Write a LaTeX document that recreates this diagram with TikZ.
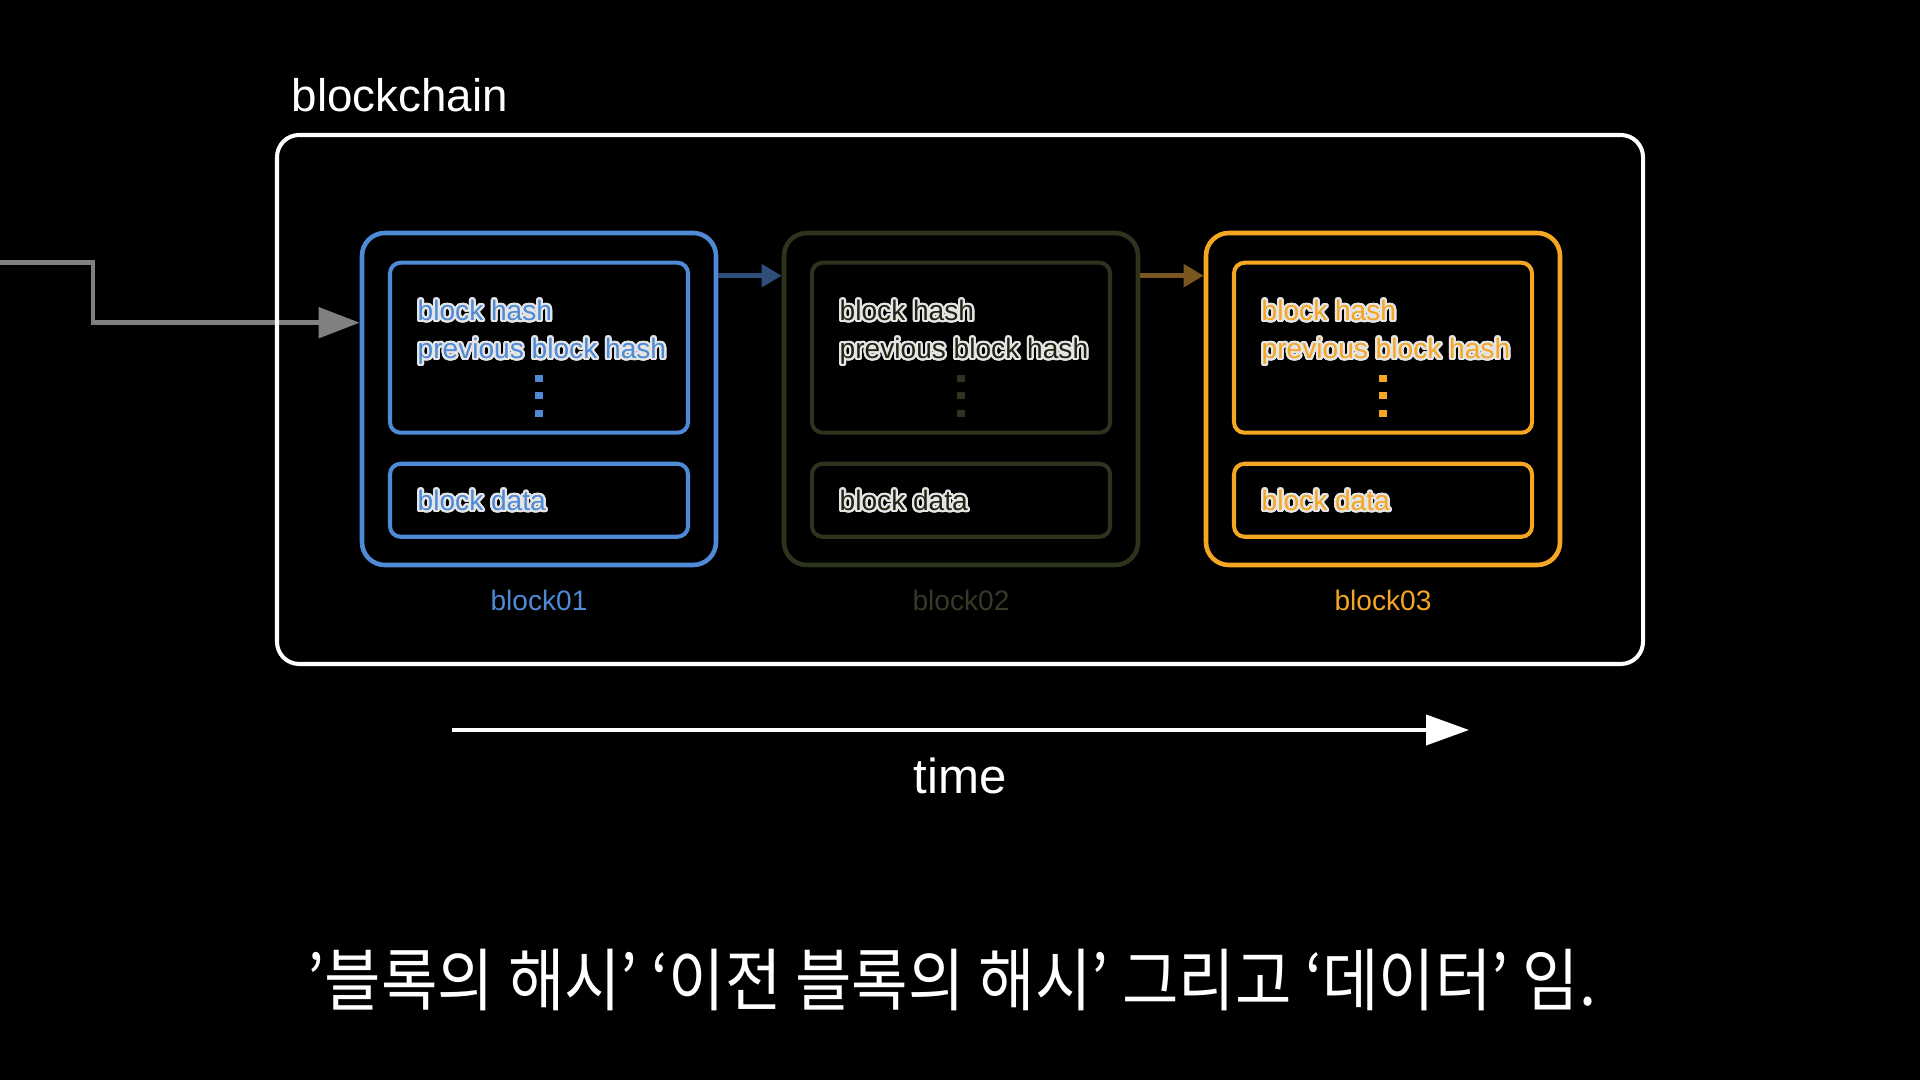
\documentclass[tikz,border=0pt]{standalone}
\usepackage{fontspec}
\setmainfont{Liberation Sans}
\newfontfamily\kofont{Noto Sans CJK KR}[FakeStretch=0.9]
\usepackage{contour}
\usetikzlibrary{positioning,arrows.meta,calc}
\definecolor{ChainBlue}{RGB}{78,138,214}
\definecolor{ChainOlive}{RGB}{44,52,30}
\definecolor{OliveText}{RGB}{30,36,18}
\definecolor{LabelOlive}{RGB}{52,58,38}
\definecolor{ChainOrange}{RGB}{245,166,35}
\definecolor{LinkBlue}{RGB}{48,78,122}
\definecolor{LinkBrown}{RGB}{122,86,32}
\definecolor{FeedGray}{RGB}{128,128,128}
\contourlength{0.6pt}
\contournumber{32}
\tikzset{
  blk/.style={draw=#1,rounded corners=6.5pt,line width=1.3pt,
              minimum width=3.54cm,minimum height=3.32cm},
  hcell/.style={draw=#1,rounded corners=3pt,line width=1.15pt,
                minimum width=2.98cm,minimum height=1.70cm},
  dcell/.style={draw=#1,rounded corners=3pt,line width=1.15pt,
                minimum width=2.98cm,minimum height=0.73cm},
  celltxt/.style={anchor=base west,inner sep=0pt,
                  font=\fontsize{8pt}{10pt}\selectfont},
  blklbl/.style={anchor=base,inner sep=0pt,
                 font=\fontsize{8pt}{10pt}\selectfont},
  chainbox/.style={draw=white,rounded corners=6.3pt,line width=1.15pt,
                   minimum width=13.66cm,minimum height=5.29cm},
  linkarr/.style={-{Triangle[length=0.2cm,width=0.22cm]},line width=1.4pt},
  feedarr/.style={-{Triangle[length=0.41cm,width=0.30cm]},FeedGray,line width=1.42pt},
  timearr/.style={-{Triangle[length=0.43cm,width=0.30cm]},white,line width=1.15pt},
}

\begin{document}
\begin{tikzpicture}
  \fill[black] (0,0) rectangle (19.2,10.8);
  \useasboundingbox (0,0) rectangle (19.2,10.8);
  % the three blocks
  \foreach \n/\cx/\bc/\tc/\lc in {01/5.39/ChainBlue/ChainBlue/ChainBlue,
      02/9.61/ChainOlive/OliveText/LabelOlive,
      03/13.83/ChainOrange/ChainOrange/ChainOrange}{
    \node[blk=\bc] (b\n) at (\cx,6.81) {};
    \node[hcell=\bc,below=0.3cm of b\n.north] (h\n) {};
    \node[dcell=\bc,below=0.27cm of h\n] (d\n) {};
    \node[celltxt,text=\tc] (hash\n) at ($(h\n.north west)+(0.29,-0.60)$)
      {\contour{white!90!black}{block hash}};
    \node[celltxt,text=\tc] (prev\n) at ($(h\n.north west)+(0.29,-0.98)$)
      {\contour{white!90!black}{previous block hash}};
    \foreach \dy in {1.18,1.35,1.53}
      \fill[\bc] ($(h\n.north)+(-0.037,-\dy-0.037)$) rectangle ++(0.074,0.074);
    \node[celltxt,text=\tc] (data\n) at ($(d\n.north west)+(0.29,-0.49)$)
      {\contour{white!90!black}{block data}};
    \node[blklbl,text=\lc] (lbl\n) at ($(b\n.south)+(0,-0.43)$) {block\n};
  }
  \draw[linkarr,LinkBlue] ($(b01.north east)+(0,-0.45)$) -- ($(b02.north west)+(0,-0.45)$);
  \draw[linkarr,LinkBrown] ($(b02.north east)+(0,-0.45)$) -- ($(b03.north west)+(0,-0.45)$);
  % incoming link
  \coordinate (feed) at (0,8.17);
  \draw[feedarr] (feed) -- ++(0.93,0) |- ($(b01.north west)+(0,-0.92)$);
  % chain frame
  \node[chainbox] (chain) at (9.60,6.805) {};
  \node[anchor=base west,inner sep=0pt,text=white,
        font=\fontsize{13pt}{15pt}\selectfont] (title) at (2.91,9.68) {blockchain};
  % time axis
  \coordinate (t0) at (4.52,3.50);
  \coordinate (t1) at (14.69,3.50);
  \draw[timearr] (t0) -- (t1);
  \node[text=white,font=\fontsize{14pt}{16pt}\selectfont] (time) at (9.60,3.04) {time};
  \node[text=white,font=\kofont\fontsize{19.4pt}{22pt}\selectfont] (caption) at (9.52,1.00)
    {’블록의 해시’ ‘이전 블록의 해시’ 그리고 ‘데이터’ 임.};
\end{tikzpicture}
\end{document}
